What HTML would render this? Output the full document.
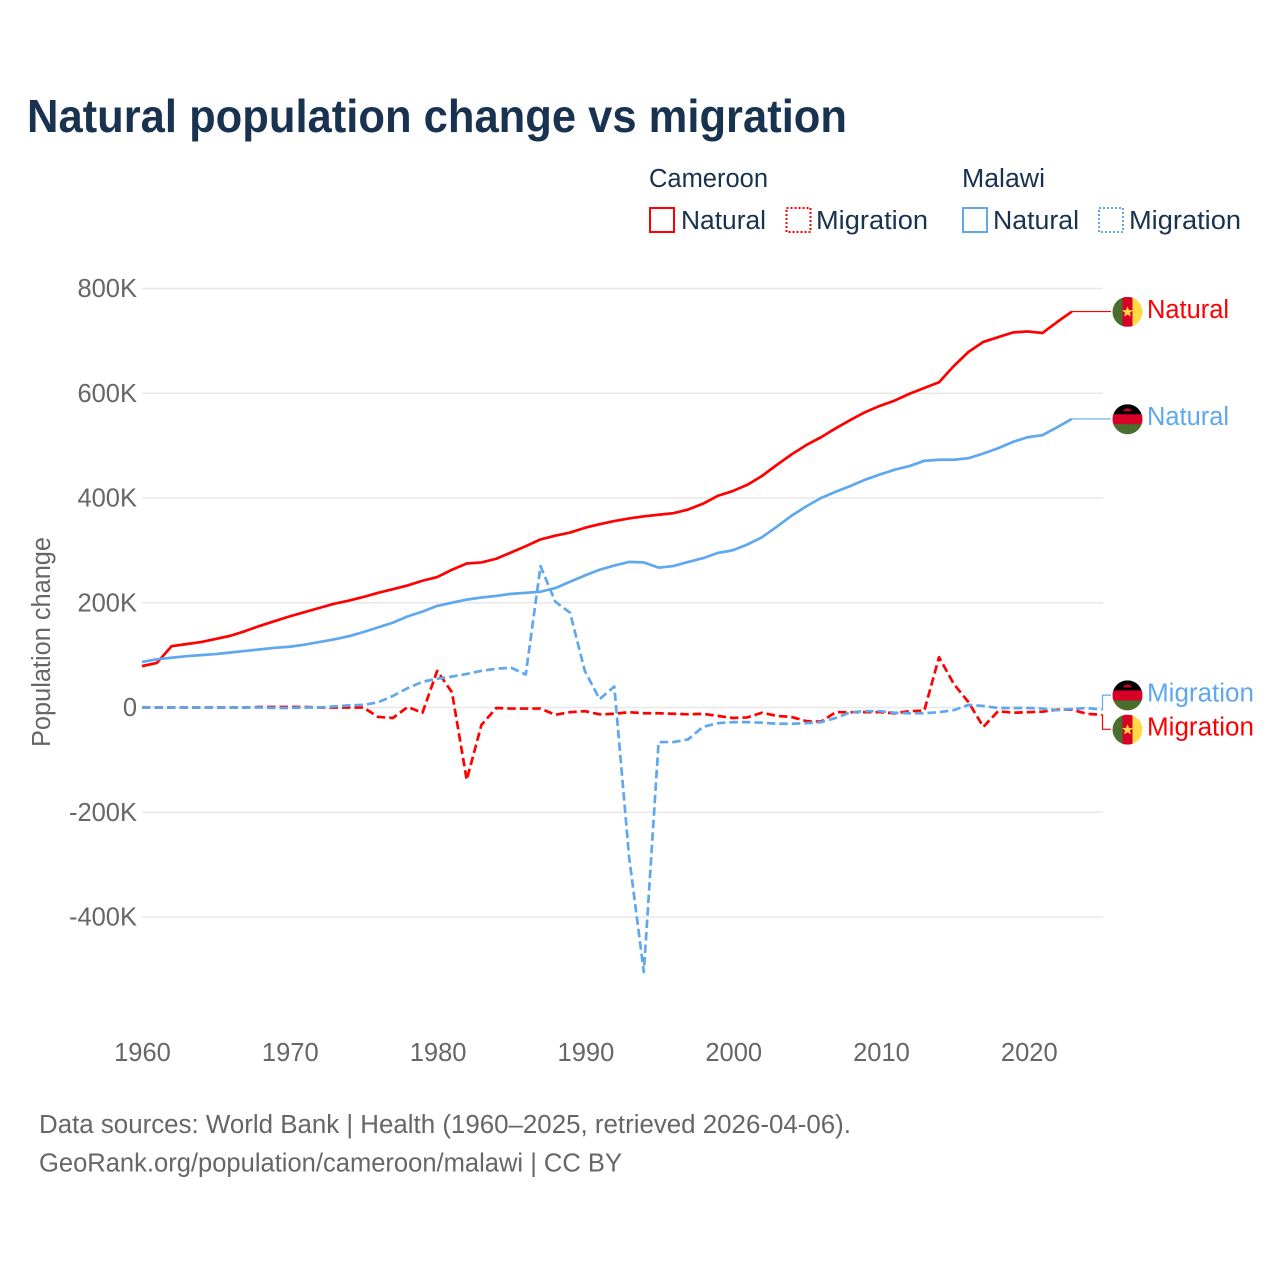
<!DOCTYPE html>
<html lang="en">
<head>
<meta charset="utf-8">
<title>Natural population change vs migration</title>
<style>
html,body{margin:0;padding:0;background:#fff;}
svg{display:block;font-family:"Liberation Sans",sans-serif;}
</style>
</head>
<body>
<svg id="chart" xmlns="http://www.w3.org/2000/svg" width="1280" height="1280" viewBox="0 0 1280 1280">
  <defs>
    <clipPath id="flag-clip"><circle cx="0" cy="0" r="15"></circle></clipPath>
    <g id="flag-cameroon" clip-path="url(#flag-clip)">
      <rect x="-15" y="-15" width="10.5" height="30" fill="#496e2d"></rect>
      <rect x="-5" y="-15" width="10.5" height="30" fill="#d80027"></rect>
      <rect x="5" y="-15" width="10.5" height="30" fill="#ffda44"></rect>
      <polygon points="0,-5.5 1.5,-1.7 5.5,-1.6 2.4,0.9 3.4,4.8 0,2.6 -3.4,4.8 -2.4,0.9 -5.5,-1.6 -1.5,-1.7" fill="#ffda44"></polygon>
    </g>
    <g id="flag-malawi" clip-path="url(#flag-clip)">
      <rect x="-15" y="-15" width="30" height="10.5" fill="#000"></rect>
      <rect x="-15" y="-5" width="30" height="10.5" fill="#d80027"></rect>
      <rect x="-15" y="5" width="30" height="10.5" fill="#496e2d"></rect>
      <polygon points="-4,-8 4,-8 4,-10 2.5,-9.5 2,-11.5 0.8,-10 0,-12 -0.8,-10 -2,-11.5 -2.5,-9.5 -4,-10" fill="#d80027"></polygon>
    </g>
  </defs>

  <text x="27" y="132" font-size="46" font-weight="700" fill="#18324f" textLength="820" lengthAdjust="spacingAndGlyphs">Natural population change vs migration</text>

  <g font-size="25.5" fill="#18324f">
    <text x="649" y="187" textLength="119" lengthAdjust="spacingAndGlyphs">Cameroon</text>
    <text x="962" y="187" textLength="83" lengthAdjust="spacingAndGlyphs">Malawi</text>
    <g>
      <rect x="650" y="208" width="24" height="24" fill="none" stroke="#ff0000" stroke-width="2"></rect>
      <text x="681" y="229" textLength="85" lengthAdjust="spacingAndGlyphs">Natural</text>
    </g>
    <g>
      <rect x="786.5" y="208" width="24" height="24" fill="none" stroke="#ff0000" stroke-width="2" stroke-dasharray="2 2"></rect>
      <text x="816" y="229" textLength="112" lengthAdjust="spacingAndGlyphs">Migration</text>
    </g>
    <g>
      <rect x="963" y="208" width="24" height="24" fill="none" stroke="#5fa8ee" stroke-width="2"></rect>
      <text x="993" y="229" textLength="86" lengthAdjust="spacingAndGlyphs">Natural</text>
    </g>
    <g>
      <rect x="1099" y="208" width="24" height="24" fill="none" stroke="#5fa8ee" stroke-width="2" stroke-dasharray="2 2"></rect>
      <text x="1129" y="229" textLength="112" lengthAdjust="spacingAndGlyphs">Migration</text>
    </g>
  </g>

  <text transform="translate(50,642) rotate(-90)" text-anchor="middle" font-size="25.5" fill="#666666" textLength="210" lengthAdjust="spacingAndGlyphs">Population change</text>

  <g id="grid"></g>
  <g id="y-ticks"></g>
  <g id="x-ticks"></g>
  <g id="series"></g>
  <g id="end-labels"></g>

  <g font-size="25.5" fill="#666666">
    <text x="39" y="1133" textLength="812" lengthAdjust="spacingAndGlyphs">Data sources: World Bank | Health (1960–2025, retrieved 2026-04-06).</text>
    <text x="39" y="1171.5" textLength="583" lengthAdjust="spacingAndGlyphs">GeoRank.org/population/cameroon/malawi | CC BY</text>
  </g>
</svg>

<script>
const startYear = 1960;
const yTickValues = [800, 600, 400, 200, 0, -200, -400];
const xTickYears = [1960, 1970, 1980, 1990, 2000, 2010, 2020];

// Values in thousands of people, one per year from 1960.
const cameroonNatural = [79,85,117,121,125,131,137,146,156,165,174,182,190,198,204,211,219,226,233,242,249,263,275,277,284,296,308,321,328,334,343,350,356,361,365,368,371,378,389,404,413,425,442,463,483,501,516,533,549,564,576,586,599,610,621,652,679,698,707,716,718,715,736,756];
const malawiNatural = [87,92,95,98,100,102,105,108,111,114,116,120,125,130,136,144,153,162,174,183,194,200,206,210,213,217,219,221,228,240,252,263,271,278,277,267,270,278,285,295,300,311,325,345,366,384,400,412,423,435,445,454,461,471,473,473,476,485,495,507,516,520,535,551];
const cameroonMigration = [0,0,0,0,0,0,0,0,1,1,1,1,0,0,0,0,-18,-20,1,-10,70,29,-138,-33,-1,-2,-2,-2,-14,-9,-7,-13,-12,-9,-11,-11,-12,-13,-12,-16,-20,-19,-10,-16,-18,-26,-27,-9,-9,-9,-9,-11,-7,-6,96,45,10,-37,-7,-10,-9,-8,-4,-4,-12,-14];
const malawiMigration = [0,0,0,0,0,0,0,0,0,-1,-1,0,0,2,4,5,10,22,37,49,55,59,64,70,74,76,63,270,202,181,70,16,40,-285,-505,-66,-66,-61,-37,-30,-28,-28,-29,-31,-31,-30,-28,-20,-9,-7,-7,-10,-11,-11,-9,-5,5,3,-1,-1,-1,-2,-5,-3,-1,-4];

const NS = 'http://www.w3.org/2000/svg';
const RED = '#ff0000';
const BLUE = '#5fa8ee';
const xScale = function (year) { return 142 + (year - 1960) * 14.76; };
const xTickScale = function (year) { return 142.5 + (year - 1960) * 14.78; };
const yScale = function (v) { return 707.5 - v * 104.75 / 200; };
const fmtK = function (v) { return v === 0 ? '0' : v + 'K'; };

function make(tag, parent, attrs) {
  const el = document.createElementNS(NS, tag);
  Object.keys(attrs).forEach(function (k) { el.setAttribute(k, attrs[k]); });
  parent.appendChild(el);
  return el;
}

const gridG = document.getElementById('grid');
const yG = document.getElementById('y-ticks');
yTickValues.forEach(function (v) {
  const y = yScale(v);
  const line = make('line', gridG, { x1: 142, x2: 1103, y1: y, y2: y, stroke: '#e8e8e8', 'stroke-width': 1.5 });
  
  
  const t = make('text', yG, { x: 137, y: y + 8.5, 'text-anchor': 'end', 'font-size': 25.5, fill: '#666666' });
  
  
  t.textContent = fmtK(v);
});

const xG = document.getElementById('x-ticks');
xTickYears.forEach(function (yr) {
  const t = make('text', xG, { x: xTickScale(yr), y: 1061, 'text-anchor': 'middle', 'font-size': 25.5, fill: '#666666' });
  
  
  t.textContent = yr;
});

const seriesG = document.getElementById('series');
function drawSeries(values, color, dashed, name) {
  const pts = values.map(function (v, i) {
    return xScale(startYear + i).toFixed(2) + ',' + yScale(v).toFixed(2);
  }).join(' ');
  const attrs = { points: pts, fill: 'none', stroke: color, 'stroke-width': 2.7, 'stroke-linejoin': 'round' };
  if (dashed) { attrs['stroke-dasharray'] = '8.5 4'; }
  const line = make('polyline', seriesG, attrs);
  
  
}
drawSeries(cameroonNatural, RED, false, 'line-cameroon-natural');
drawSeries(cameroonMigration, RED, true, 'line-cameroon-migration');
drawSeries(malawiNatural, BLUE, false, 'line-malawi-natural');
drawSeries(malawiMigration, BLUE, true, 'line-malawi-migration');

const labelsG = document.getElementById('end-labels');
function drawEndLabel(values, offset, color, flag, text, width, name) {
  const lastIndex = values.length - 1;
  const x0 = xScale(startYear + lastIndex);
  const y0 = yScale(values[lastIndex]);
  const y1 = y0 + offset;
  const xMid = Math.min(x0 + 6, 1102.5);
  const conn = make('polyline', labelsG, {
    points: x0 + ',' + y0 + ' ' + xMid + ',' + y0 + ' ' + xMid + ',' + y1 + ' 1111,' + y1,
    fill: 'none', stroke: color, 'stroke-width': 1.2
  });
  
  
  const f = make('use', labelsG, { href: '#' + flag, x: 1127.5, y: y1 + 0.3 });
  
  
  const t = make('text', labelsG, { x: 1147, y: y1 + 6.3, 'font-size': 25.5, fill: color, textLength: width, lengthAdjust: 'spacingAndGlyphs' });
  
  
  t.textContent = text;
}
drawEndLabel(cameroonNatural, 0, RED, 'flag-cameroon', 'Natural', 82, 'end-cameroon-natural');
drawEndLabel(malawiNatural, 0, BLUE, 'flag-malawi', 'Natural', 82, 'end-malawi-natural');
drawEndLabel(malawiMigration, -14.5, BLUE, 'flag-malawi', 'Migration', 107, 'end-malawi-migration');
drawEndLabel(cameroonMigration, 14.5, RED, 'flag-cameroon', 'Migration', 107, 'end-cameroon-migration');
</script>
</body>
</html>
